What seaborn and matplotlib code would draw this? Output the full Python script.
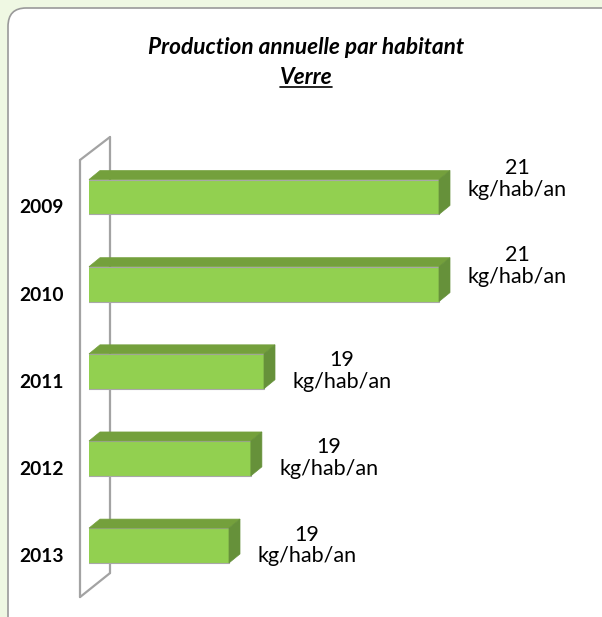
import matplotlib
matplotlib.use('Agg')
import matplotlib.pyplot as plt
import matplotlib.transforms as mtransforms
from matplotlib.patches import Polygon, FancyBboxPatch
from matplotlib.lines import Line2D
import numpy as np
import pandas as pd
import seaborn as sns

sns.set_style('white')
plt.rcParams['font.family'] = ['Lato', 'DejaVu Sans']

years = ['2009', '2010', '2011', '2012', '2013']
values = [21.4, 21.4, 19.4, 19.25, 19.0]
labels = ['21', '21', '19', '19', '19']
unit = 'kg/hab/an'

front = '#92d050'
top_col = '#74a03c'
side_col = '#66913a'
wall_col = '#a3a3a3'

W, H = 602, 617
fig = plt.figure(figsize=(W / 100, H / 100), dpi=100)
fig.patch.set_facecolor('#eff8e3')

# white rounded panel
panel = FancyBboxPatch((8 / W, -0.05), (W + 20) / W, 1.05 - 8 / H,
                       boxstyle='round,pad=0,rounding_size=0.03',
                       transform=fig.transFigure, facecolor='white',
                       edgecolor='#9a9a9a', lw=1.2, zorder=-5)
fig.patches.append(panel)

# axes = front plane of the bars
ax_left, ax_right = 89, 579
ax_top, ax_bot = 153.4, 589.1
ax = fig.add_axes([ax_left / W, 1 - ax_bot / H, (ax_right - ax_left) / W, (ax_bot - ax_top) / H])
ax.patch.set_alpha(0)
ax.set_zorder(2)

df = pd.DataFrame({'year': years, 'value': values})
sns.barplot(data=df, x='value', y='year', orient='h', color=front, width=0.4,
            saturation=1, edgecolor='#a8a8a8', linewidth=0.8, ax=ax, zorder=3)
ax.set_xlim(17.4, 23.0)
ax.set_ylim(4.5, -0.5)
ax.set_xlabel('')
ax.set_ylabel('')
ax.set_xticks([])
ax.set_yticks([])
for s in ax.spines.values():
    s.set_visible(False)


def off(dx, dy):
    return mtransforms.ScaledTranslation(dx / 100, dy / 100, fig.dpi_scale_trans)


ident = mtransforms.IdentityTransform()
fig.canvas.draw()
p0 = ax.transAxes.transform((0, 1))
p1 = ax.transAxes.transform((0, 0))
# back wall (3D)
wall = [
    ([p1[0] - 9, p0[0] - 9], [p1[1] - 8, p0[1] - 6.6]),
    ([p1[0] + 21, p0[0] + 21], [p1[1] + 16, p0[1] + 16.4]),
    ([p0[0] - 9, p0[0] + 21], [p0[1] - 6.6, p0[1] + 16.4]),
    ([p1[0] - 9, p1[0] + 21], [p1[1] - 8, p1[1] + 16]),
]
for xs, ys in wall:
    ax.add_line(Line2D(xs, ys, transform=ident, color=wall_col, lw=1.6,
                       clip_on=False, zorder=1))

# 3D faces of bars
dx, dy = 11, 9
for bar in list(ax.patches):
    x0, y0 = bar.get_x(), bar.get_y()
    w, h = bar.get_width(), bar.get_height()
    a = ax.transData.transform((x0, y0))
    b = ax.transData.transform((x0 + w, y0 + h))
    left, right = max(min(a[0], b[0]), p0[0]), max(a[0], b[0])
    bot, top = min(a[1], b[1]), max(a[1], b[1])
    topface = [(left, top), (right, top), (right + dx, top + dy), (left + dx, top + dy)]
    sideface = [(right, bot), (right, top), (right + dx, top + dy), (right + dx, bot + dy)]
    for pts, c in [(topface, top_col), (sideface, side_col)]:
        ax.add_patch(Polygon(pts, closed=True, facecolor=c, edgecolor=c, lw=0.5,
                             transform=ident, clip_on=False, zorder=4))

# year labels
ytrans = ax.get_yaxis_transform() + off(0, -11)
for i, y in enumerate(years):
    ax.text(-0.097, i, y, transform=ytrans, ha='center', va='center',
            fontsize=13.8, fontweight='bold', color='black')

# value labels
for i, (v, lab) in enumerate(zip(values, labels)):
    shift = 18 if v > 20 else 0
    ax.text(v, i, lab + '\n' + unit, transform=ax.transData + off(78, shift),
            ha='center', va='center', fontsize=15.5, color='black', linespacing=1.12)

fig.text(306 / W, 1 - 47 / H, 'Production annuelle par habitant', ha='center', va='center',
         fontsize=16.3, fontweight='bold', fontstyle='italic', color='black')
fig.text(306 / W, 1 - 77 / H, 'Verre', ha='center', va='center',
         fontsize=16.3, fontweight='bold', fontstyle='italic', color='black')
fig.canvas.draw()
bb = fig.texts[-1].get_window_extent()
fig.lines.append(Line2D([bb.x0 / W, bb.x1 / W], [(bb.y0 + 1) / H, (bb.y0 + 1) / H],
                        transform=fig.transFigure, color='black', lw=1.2))

fig.savefig('out.png', dpi=100, facecolor=fig.get_facecolor())
